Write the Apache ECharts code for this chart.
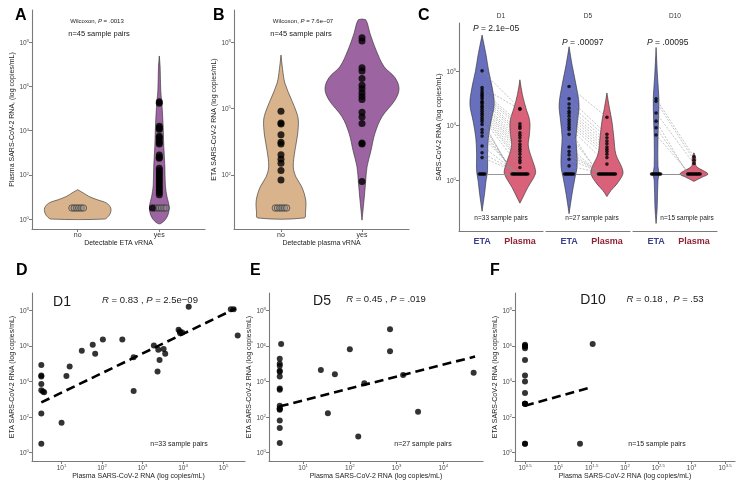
<!DOCTYPE html>
<html><head><meta charset="utf-8">
<script src="https://cdn.jsdelivr.net/npm/echarts@6/dist/echarts.min.js"></script>
<style>html,body{margin:0;padding:0;background:#fff}#c{width:740px;height:490px}</style>
</head><body><div id="c"></div>
<script>
// ================= DATA (all values are log10 copies/mL) =================
// Panel A: plasma vRNA grouped by detectable ETA vRNA
const catsA = ['no', 'yes'];
const aNoLodOpen = [0.5, 0.5, 0.5, 0.5, 0.5, 0.5];
const aYesPoints = [5.31, 5.24, 4.2, 4.12, 4.06, 3.75, 3.68, 3.57, 3.45, 3.4, 2.9, 2.8, 2.75, 2.3, 2.2, 2.1, 2.0, 1.9, 1.8, 1.7, 1.6, 1.5, 1.4, 1.3, 1.2, 1.1];
const aYesLodFilled = [0.5];
const aYesLodOpen = [0.5, 0.5, 0.5, 0.5, 0.5, 0.5];
// violin outlines: [log value, half density width (category units)]
const violinANo = [[0, 0.33], [0.1, 0.37], [0.26, 0.4], [0.5, 0.405], [0.72, 0.355], [0.88, 0.235], [1.03, 0.135], [1.18, 0.07], [1.33, 0]];
const violinAYes = [[-0.2, 0.02], [0, 0.08], [0.3, 0.115], [0.6, 0.12], [1.0, 0.095], [1.5, 0.075], [2.4, 0.068], [3.3, 0.055], [4.2, 0.047], [5.1, 0.034], [5.8, 0.018], [6.9, 0.01], [7.38, 0]];

// Panel B: ETA vRNA grouped by detectable plasma vRNA
const catsB = ['no', 'yes'];
const bNoPoints = [4.88, 4.35, 4.3, 3.82, 3.47, 3.4, 2.91, 2.71, 2.53, 2.2, 1.77];
const bNoLodOpen = [0.5, 0.5, 0.5, 0.5, 0.5, 0.5];
const bYesPoints = [8.2, 8.06, 6.85, 6.7, 6.36, 6.05, 5.9, 5.71, 5.56, 5.41, 4.83, 4.62, 4.32, 3.44, 3.4, 1.7];
const violinBNo = [[0.05, 0.288], [0.3, 0.302], [0.86, 0.305], [1.46, 0.256], [1.9, 0.185], [2.37, 0.152], [3.12, 0.173], [3.8, 0.204], [4.48, 0.214], [4.9, 0.185], [5.38, 0.132], [6.14, 0.049], [6.8, 0.019], [7.42, 0]];
const violinBYes = [[-0.05, 0], [0.86, 0.025], [1.6, 0.043], [2.36, 0.062], [3.1, 0.111], [3.88, 0.16], [4.63, 0.247], [5.38, 0.407], [5.9, 0.457], [6.4, 0.407], [6.9, 0.272], [7.65, 0.173], [8.4, 0.099], [9.0, 0.05], [9.05, 0]];

// Panel C: paired ETA / plasma by day (index i of ETA pairs with index i of plasma)
const catsC = ['ETA', 'Plasma'];
const days = ['D1', 'D5', 'D10'];
const etaD1 = [8.03, 6.81, 6.64, 6.47, 6.35, 6.23, 6.1, 5.98, 5.79, 5.7, 5.6, 5.45, 5.35, 5.2, 5.06, 4.9, 4.77, 4.6, 4.45, 4.3, 4.09, 3.72, 3.5, 3.23, 2.5, 2.01, 1.65, 0.44, 0.44, 0.44, 0.44, 0.44, 0.44];
const plasmaD1 = [5.26, 5.2, 4.13, 3.96, 3.8, 3.48, 3.3, 3.11, 2.87, 2.63, 2.45, 2.26, 2.1, 1.9, 1.65, 1.45, 1.28, 0.92, 0.44, 0.44, 0.44, 0.44, 0.44, 0.44, 0.44, 0.44, 0.44, 0.44, 0.44, 0.44, 0.44, 0.44, 0.44];
const etaD5 = [6.88, 5.98, 5.59, 5.3, 5.06, 4.9, 4.69, 4.45, 4.28, 4.09, 3.89, 3.72, 3.36, 2.43, 2.09, 1.85, 1.53, 1.04, 0.44, 0.44, 0.44, 0.44, 0.44, 0.44, 0.44, 0.44, 0.44];
const plasmaD5 = [4.62, 3.36, 3.11, 2.87, 2.67, 2.43, 2.26, 2.09, 1.9, 1.65, 1.17, 0.44, 0.44, 0.44, 0.44, 0.44, 0.44, 0.44, 0.44, 0.44, 0.44, 0.44, 0.44, 0.44, 0.44, 0.44, 0.44];
const etaD10 = [5.98, 5.79, 4.93, 4.33, 3.84, 3.31, 0.44, 0.44, 0.44, 0.44, 0.44, 0.44, 0.44, 0.44, 0.44];
const plasmaD10 = [1.7, 1.46, 1.21, 0.44, 0.44, 0.44, 0.44, 0.44, 0.44, 0.44, 0.44, 0.44, 0.44, 0.44, 0.44];
const violinEtaD1 = [[-2.3, 0], [-1.0, 0.066], [-0.05, 0.105], [0.68, 0.145], [1.9, 0.145], [3.1, 0.166], [4.33, 0.237], [5.56, 0.321], [6.76, 0.271], [8.0, 0.176], [9.2, 0.105], [10.66, 0]];
const violinPlasmaD1 = [[-1.7, 0], [-1.27, 0.079], [-0.54, 0.21], [0.44, 0.408], [0.92, 0.395], [1.9, 0.276], [2.6, 0.22], [3.3, 0.25], [4.33, 0.26], [5.3, 0.158], [6.28, 0.066], [7.37, 0]];
const violinEtaD5 = [[-2.48, 0], [-1.02, 0.079], [0.19, 0.158], [0.92, 0.21], [1.9, 0.21], [3.1, 0.184], [4.33, 0.224], [5.55, 0.263], [7.0, 0.184], [8.47, 0.079], [9.8, 0]];
const violinPlasmaD5 = [[-1.22, 0], [-0.78, 0.105], [-0.29, 0.263], [0.44, 0.421], [0.92, 0.395], [1.9, 0.237], [3.1, 0.184], [4.33, 0.132], [5.3, 0.066], [6.4, 0]];
const violinEtaD10 = [[-3.2, 0], [-2, 0.03], [0, 0.05], [0.44, 0.08], [1, 0.05], [3, 0.05], [4.5, 0.066], [6, 0.074], [7.5, 0.04], [9.75, 0]];
const violinPlasmaD10 = [[-0.1, 0], [0.2, 0.21], [0.44, 0.37], [0.7, 0.24], [0.95, 0.08], [1.2, 0.04], [1.5, 0.05], [1.8, 0.03], [2.0, 0]];

// Panels D-F: [log10 plasma, log10 ETA]
const scatterD1 = [[0.5, 4.93], [0.5, 4.34], [0.5, 4.28], [0.5, 3.85], [0.5, 3.5], [0.54, 3.44], [0.57, 3.4], [0.5, 2.2], [0.5, 0.5], [1.0, 1.68], [1.12, 4.3], [1.2, 4.84], [1.5, 5.72], [1.77, 6.06], [1.83, 5.55], [2.02, 6.36], [2.5, 6.36], [2.78, 5.36], [2.78, 3.46], [3.28, 6.02], [3.39, 5.78], [3.52, 5.83], [3.56, 5.55], [3.42, 5.21], [3.37, 4.56], [3.89, 6.9], [3.92, 6.8], [3.93, 6.71], [3.98, 6.75], [4.14, 8.2], [5.18, 8.06], [5.25, 8.06], [5.35, 6.58]];
const fitD1 = [[0.5, 2.82], [5.3, 8.1]];
const scatterD5 = [[0.53, 6.11], [0.5, 5.27], [0.5, 4.88], [0.5, 4.54], [0.5, 4.28], [0.5, 3.53], [0.5, 2.64], [0.5, 2.41], [0.5, 1.81], [0.5, 1.38], [0.5, 0.54], [1.38, 4.65], [1.68, 4.41], [1.53, 2.22], [2.0, 5.81], [2.18, 0.9], [2.31, 3.9], [2.86, 6.93], [2.86, 5.7], [3.14, 4.36], [3.46, 2.3], [4.65, 4.49], [0.5, 2.5], [0.5, 4.6], [0.5, 5.0], [0.5, 3.6], [0.5, 2.45]];
const fitD5 = [[0.5, 2.6], [4.68, 5.4]];
const scatterD10 = [[0.5, 6.06], [0.5, 5.96], [0.5, 5.87], [0.5, 5.21], [0.5, 4.34], [0.5, 4.0], [0.5, 3.35], [0.5, 2.75], [0.5, 0.5], [1.515, 6.11], [1.325, 0.5], [0.5, 2.75], [0.5, 2.75], [0.5, 6.0], [0.5, 0.5]];
const fitD10 = [[0.5, 2.64], [1.48, 3.66]];

// tick labels (exponents)
const ticksA = [0, 2, 4, 6, 8];
const ticksB = [2, 5, 8];
const ticksC = [0, 4, 8];
const ticksScatterY = [0, 2, 4, 6, 8];
const ticksD1x = [1, 2, 3, 4, 5];
const ticksD5x = [1, 2, 3, 4];
const ticksD10x = [0.5, 1, 1.5, 2, 2.5, 3, 3.5];

// ================= CHART =================
const FONT = 'Liberation Sans, Arial, Helvetica, sans-serif';
const AX = '#7a7a7a';
const TXT = '#4a4a4a';
const TAN = '#D9B38C', PURPLE = '#9C64A0', BLUE = '#6870BE', PINK = '#D9617A';

function supRich(size) {
  return {
    b: { fontSize: size, lineHeight: size + 2, verticalAlign: 'bottom', fontFamily: FONT, color: TXT },
    s: { fontSize: size * 0.66, lineHeight: size * 0.66 + 1, verticalAlign: 'bottom', padding: [0, 0, size * 0.55, 0], fontFamily: FONT, color: TXT }
  };
}
function fmtExp(v) { return String(Math.round(v * 100) / 100); }

function yLog(gi, min, max, ticks, name, gap, showAll) {
  return {
    gridIndex: gi, type: 'value', min, max, show: showAll !== false,
    axisLine: { show: true, onZero: false, lineStyle: { color: AX, width: 1.1 } },
    axisTick: { show: true, length: 3, customValues: ticks, lineStyle: { color: AX } },
    axisLabel: { show: true, customValues: ticks, margin: 3, formatter: v => '{b|10}{s|' + fmtExp(v) + '}', rich: supRich(6.5) },
    splitLine: { show: false },
    name, nameLocation: 'middle', nameRotate: 90, nameGap: gap,
    nameTextStyle: { fontSize: 7, color: '#222', fontFamily: FONT }
  };
}
function xLog(gi, min, max, ticks, name, gap) {
  return {
    gridIndex: gi, type: 'value', min, max,
    axisLine: { show: true, onZero: false, lineStyle: { color: AX, width: 1.1 } },
    axisTick: { show: true, length: 3, customValues: ticks, lineStyle: { color: AX } },
    axisLabel: { show: true, customValues: ticks, margin: 2, formatter: v => '{b|10}{s|' + fmtExp(v) + '}', rich: supRich(6.5) },
    splitLine: { show: false },
    name, nameLocation: 'middle', nameGap: gap,
    nameTextStyle: { fontSize: 7, color: '#222', fontFamily: FONT }
  };
}
function xCat(gi, min, max, labels, name, gap, rich) {
  return {
    gridIndex: gi, type: 'value', min, max,
    axisLine: { show: true, onZero: false, lineStyle: { color: AX, width: 1.1 } },
    axisTick: { show: !rich, length: 3, customValues: [1, 2], lineStyle: { color: AX } },
    axisLabel: {
      show: true, customValues: [1, 2], margin: rich ? 6 : 3,
      formatter: v => rich ? ('{c' + Math.round(v) + '|' + labels[Math.round(v) - 1] + '}') : labels[Math.round(v) - 1],
      fontSize: 7, color: '#333', fontFamily: FONT, rich: rich || undefined
    },
    splitLine: { show: false },
    name, nameLocation: 'middle', nameGap: gap,
    nameTextStyle: { fontSize: 7, color: '#222', fontFamily: FONT }
  };
}

function violin(xi, center, profile, color) {
  return {
    type: 'custom', xAxisIndex: xi, yAxisIndex: xi, silent: true, z: 1,
    data: [[center, profile[0][0]]],
    renderItem: function (params, api) {
      const right = profile.map(p => api.coord([center + p[1], p[0]]));
      const left = profile.map(p => api.coord([center - p[1], p[0]])).reverse();
      return { type: 'polygon', shape: { points: right.concat(left), smooth: 0.35 }, style: { fill: color, stroke: '#2b2b2b', lineWidth: 0.6 } };
    }
  };
}
// spread identical values horizontally (centred on category)
function spread(center, values, step) {
  const counts = {}, seen = {};
  values.forEach(v => counts[v] = (counts[v] || 0) + 1);
  return values.map(v => {
    const n = counts[v];
    const k = seen[v] = (seen[v] === undefined ? 0 : seen[v] + 1);
    return n > 1 ? [center + (k - (n - 1) / 2) * step, v] : [center, v];
  });
}
function pts(xi, data, size, style, z) {
  return { type: 'scatter', xAxisIndex: xi, yAxisIndex: xi, data, symbolSize: size, itemStyle: style, silent: true, z: z || 3 };
}
const FILLED = { color: '#000' };
const OPEN = { color: 'rgba(150,150,150,0.45)', borderColor: '#333', borderWidth: 0.8 };

const series = [];
// ----- A -----
series.push(violin(0, 1, violinANo, TAN), violin(0, 2, violinAYes, PURPLE));
series.push(pts(0, spread(1, aNoLodOpen, 0.028), 6.5, OPEN));
series.push(pts(0, aYesPoints.map(v => [2, v]), 7, FILLED));
const aYesLodAll = spread(2, aYesLodFilled.concat(aYesLodOpen), 0.028);
series.push(pts(0, aYesLodAll.slice(aYesLodFilled.length), 6.5, OPEN));
series.push(pts(0, aYesLodAll.slice(0, aYesLodFilled.length), 7, FILLED, 4));
// ----- B -----
series.push(violin(1, 1, violinBNo, TAN), violin(1, 2, violinBYes, PURPLE));
series.push(pts(1, bNoPoints.map(v => [1, v]), 7, FILLED));
series.push(pts(1, spread(1, bNoLodOpen, 0.028), 6.5, OPEN));
series.push(pts(1, bYesPoints.map(v => [2, v]), 7, FILLED));
// ----- C -----
const cSets = [
  [etaD1, plasmaD1, violinEtaD1, violinPlasmaD1],
  [etaD5, plasmaD5, violinEtaD5, violinPlasmaD5],
  [etaD10, plasmaD10, violinEtaD10, violinPlasmaD10]
];
cSets.forEach((s, k) => {
  const xi = 2 + k;
  series.push(violin(xi, 1, s[2], BLUE), violin(xi, 2, s[3], PINK));
  const e = spread(1, s[0], 0.03), p = spread(2, s[1], 0.03);
  series.push({
    type: 'lines', coordinateSystem: 'cartesian2d', xAxisIndex: xi, yAxisIndex: xi, silent: true, z: 2,
    lineStyle: { color: '#8f8f8f', width: 0.6, type: [2, 1.5], opacity: 0.9 },
    data: e.map((pt, i) => ({ coords: [pt, p[i]] }))
  });
  series.push(pts(xi, e, 3.6, FILLED), pts(xi, p, 3.6, FILLED));
});
// ----- D, E, F -----
[[scatterD1, fitD1], [scatterD5, fitD5], [scatterD10, fitD10]].forEach((s, k) => {
  const xi = 5 + k;
  series.push(pts(xi, s[0], 6, FILLED));
  series.push({ type: 'line', xAxisIndex: xi, yAxisIndex: xi, data: s[1], symbol: 'none', silent: true, z: 2,
    lineStyle: { color: '#000', width: 2.6, type: [9, 5] } });
});

const grid = [
  { left: 32, top: 10, width: 173, height: 219 },
  { left: 234, top: 10, width: 175, height: 219 },
  { left: 459, top: 23, width: 84, height: 208 },
  { left: 546, top: 23, width: 84, height: 208 },
  { left: 633, top: 23, width: 84, height: 208 },
  { left: 32, top: 293, width: 213, height: 168 },
  { left: 269, top: 293, width: 214, height: 168 },
  { left: 515, top: 293, width: 220, height: 168 }
];
const catRich = {
  c1: { fontSize: 9, fontWeight: 'bold', color: '#3B3F8C', fontFamily: FONT },
  c2: { fontSize: 9, fontWeight: 'bold', color: '#8E2034', fontFamily: FONT }
};
const xAxis = [
  xCat(0, 0.44, 2.56, catsA, 'Detectable ETA vRNA', 10),
  xCat(1, 0.42, 2.58, catsB, 'Detectable plasma vRNA', 10),
  xCat(2, 0.39, 2.61, catsC, '', 0, catRich),
  xCat(3, 0.39, 2.61, catsC, '', 0, catRich),
  xCat(4, 0.39, 2.61, catsC, '', 0, catRich),
  xLog(5, 0.27, 5.53, ticksD1x, 'Plasma SARS-CoV-2 RNA (log copies/mL)', 11),
  xLog(6, 0.27, 4.85, ticksD5x, 'Plasma SARS-CoV-2 RNA (log copies/mL)', 11),
  xLog(7, 0.35, 3.65, ticksD10x, 'Plasma SARS-CoV-2 RNA (log copies/mL)', 11)
];
const yAxis = [
  yLog(0, -0.45, 9.46, ticksA, 'Plasma SARS-CoV-2 RNA, (log copies/mL)', 15),
  yLog(1, -0.45, 9.46, ticksB, 'ETA SARS-CoV-2 RNA (log copies/mL)', 13),
  yLog(2, -3.75, 11.55, ticksC, 'SARS-CoV-2 RNA (log copies/mL)', 15),
  yLog(3, -3.75, 11.55, ticksC, '', 0, false),
  yLog(4, -3.75, 11.55, ticksC, '', 0, false),
  yLog(5, -0.47, 8.97, ticksScatterY, 'ETA SARS-CoV-2 RNA (log copies/mL)', 16),
  yLog(6, -0.47, 8.97, ticksScatterY, 'ETA SARS-CoV-2 RNA (log copies/mL)', 14),
  yLog(7, -0.47, 8.97, ticksScatterY, 'ETA SARS-CoV-2 RNA (log copies/mL)', 15)
];

function txt(x, y, text, size, opts) {
  opts = opts || {};
  const rich = {
    i: { fontStyle: 'italic', fontSize: size, fontFamily: FONT, fill: opts.color || '#1a1a1a', color: opts.color || '#1a1a1a' },
    n: { fontSize: size, fontFamily: FONT, fill: opts.color || '#1a1a1a', color: opts.color || '#1a1a1a' }
  };
  return {
    type: 'text', x, y, silent: true, z: 10,
    style: {
      text, rich, fontSize: size, fontFamily: FONT, fontWeight: opts.bold ? 'bold' : 'normal',
      fill: opts.color || '#1a1a1a',
      align: opts.align || 'center', textAlign: opts.align || 'center',
      verticalAlign: 'middle', textVerticalAlign: 'middle'
    }
  };
}
const graphic = [
  txt(15, 16, 'A', 16, { bold: true, align: 'left', color: '#000' }),
  txt(213, 16, 'B', 16, { bold: true, align: 'left', color: '#000' }),
  txt(418, 16, 'C', 16, { bold: true, align: 'left', color: '#000' }),
  txt(16, 271, 'D', 16, { bold: true, align: 'left', color: '#000' }),
  txt(250, 271, 'E', 16, { bold: true, align: 'left', color: '#000' }),
  txt(490, 271, 'F', 16, { bold: true, align: 'left', color: '#000' }),
  txt(97, 21, '{n|Wilcoxon, }{i|P}{n| = .0013}', 6),
  txt(99, 34, 'n=45 sample pairs', 7.5),
  txt(303, 21, '{n|Wilcoxon, }{i|P}{n| = 7.6e\u221207}', 6),
  txt(301, 34, 'n=45 sample pairs', 7.5),
  txt(501, 16, days[0], 6.5, { color: '#333' }),
  txt(588, 16, days[1], 6.5, { color: '#333' }),
  txt(675, 16, days[2], 6.5, { color: '#333' }),
  txt(473, 29, '{i|P}{n| = 2.1e\u221205}', 8.5, { align: 'left' }),
  txt(562, 43, '{i|P}{n| = .00097}', 8.5, { align: 'left' }),
  txt(647, 43, '{i|P}{n| = .00095}', 8.5, { align: 'left' }),
  txt(501, 218, 'n=33 sample pairs', 6.5),
  txt(592, 218, 'n=27 sample pairs', 6.5),
  txt(687, 218, 'n=15 sample pairs', 6.5),
  txt(62, 302, days[0], 14),
  txt(150, 300, '{i|R}{n| = 0.83 , }{i|P}{n| = 2.5e\u221209}', 9.5),
  txt(179, 444, 'n=33 sample pairs', 7),
  txt(322, 301, days[1], 14),
  txt(386, 299, '{i|R}{n| = 0.45 , }{i|P}{n| = .019}', 9.5),
  txt(423, 444, 'n=27 sample pairs', 7),
  txt(593, 300, days[2], 14),
  txt(665, 299, '{i|R}{n| = 0.18 ,  }{i|P}{n| = .53}', 9.5),
  txt(657, 444, 'n=15 sample pairs', 7)
];

const chart = echarts.init(document.getElementById('c'), null, { renderer: 'canvas' });
chart.setOption({
  backgroundColor: '#fff', animation: false,
  textStyle: { fontFamily: FONT },
  grid, xAxis, yAxis, series, graphic
});
</script></body></html>
